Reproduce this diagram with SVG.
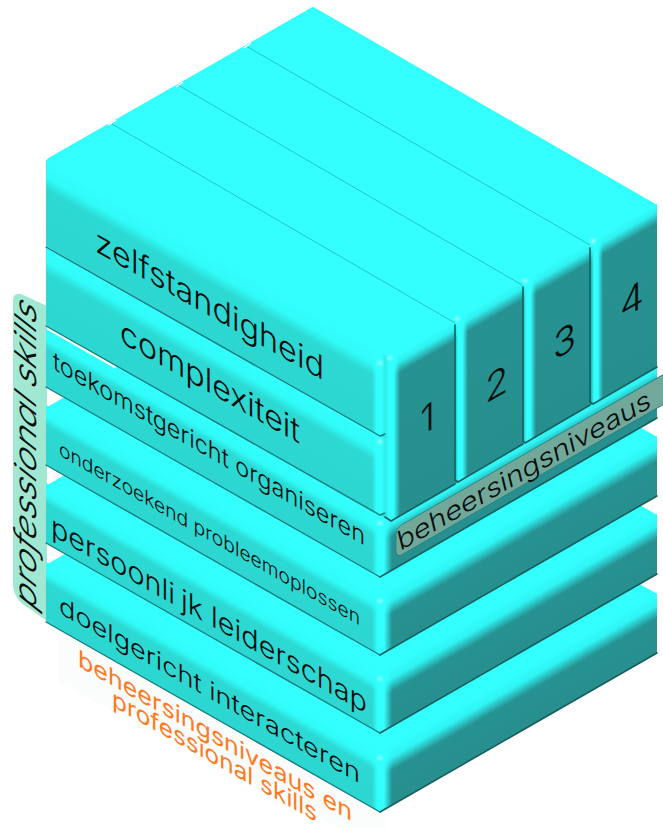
<svg xmlns="http://www.w3.org/2000/svg" width="663" height="828" viewBox="0 0 663 828">
<style>
.top{fill:#33FFFF;stroke:#33FFFF;stroke-width:4;stroke-linejoin:round}
.lf{fill:url(#gl)}
.rf{fill:url(#gr)}
.cf{fill:url(#gc)}
.bev{fill:url(#gb)}
.hi{fill:url(#gh)}
.eL{fill:none;stroke:#17807f;stroke-width:1.4;stroke-linecap:round;stroke-linejoin:round}
.eR{fill:none;stroke:#155f60;stroke-width:1.6;stroke-linecap:round;stroke-linejoin:round}
.sep{fill:none;stroke:#23c4c4;stroke-width:1}
text{font-family:"Inter","Open Sans","Liberation Sans",sans-serif;font-weight:300;fill:#020d0c}
.or{fill:#FF7A1F;font-size:24px;font-weight:400}
</style>
<defs>
<linearGradient id="gl" x1="0" y1="0" x2="0" y2="1"><stop offset="0" stop-color="#33FFFF"/><stop offset=".2" stop-color="#30FBF8"/><stop offset=".34" stop-color="#2DD9D3"/><stop offset="1" stop-color="#2DD6D0"/></linearGradient>
<linearGradient id="gr" x1="0" y1="0" x2="0" y2="1"><stop offset="0" stop-color="#33FFFF"/><stop offset=".2" stop-color="#30F4F4"/><stop offset=".42" stop-color="#279292"/><stop offset="1" stop-color="#278F8E"/></linearGradient>
<linearGradient id="gc" x1="0" y1="0" x2="0" y2="1"><stop offset="0" stop-color="#33FFFF"/><stop offset=".05" stop-color="#30F0F0"/><stop offset=".12" stop-color="#279292"/><stop offset="1" stop-color="#268F8E"/></linearGradient>
<linearGradient id="gb" x1="0" y1="0" x2="1" y2="0"><stop offset="0" stop-color="#33FFFF" stop-opacity="0"/><stop offset=".3" stop-color="#33FFFF"/><stop offset=".6" stop-color="#33FFFF"/><stop offset="1" stop-color="#33FFFF" stop-opacity="0"/></linearGradient>
<radialGradient id="gh"><stop offset="0" stop-color="#B0FFFF"/><stop offset="1" stop-color="#33FFFF" stop-opacity="0"/></radialGradient>
</defs>

<g id="shadow"><polygon points="57,628 385,818 385,828 340,828 58,682" fill="#FAFDFC"/></g>

<g id="label-professional-skills">
<path d="M13,301Q13,292 21,294L47,306V621L30,609Q13,600 13,583Z" fill="#A0E8D2"/>
<text transform="matrix(0,-1,1,.58,36,611)" font-size="30" textLength="305" lengthAdjust="spacingAndGlyphs" font-style="italic">professional skills</text>
</g>

<g id="slab-doelgericht-interacteren">
<polygon class="top" points="48,566 380,754 655,595 323,407"/>
<g transform="matrix(1,.57,0,1,46,562)"><rect class="lf" width="334" height="60"/></g>
<g transform="matrix(1,-.574,0,1,380,752)"><rect class="rf" width="277" height="60"/></g>
<polygon class="bev" points="372,750 392,750 392,805 380,812 372,807"/>
<circle class="hi" cx="380" cy="758" r="5"/>
<path class="eL" d="M46,622L380,812"/><path class="eR" d="M380,812L657,653"/>
<text transform="matrix(1,.567,0,1,59,613)" font-size="25" textLength="301" lengthAdjust="spacingAndGlyphs">doelgericht interacteren</text>
</g>

<g id="slab-persoonlijk-leiderschap">
<polygon class="top" points="48,487 380,675 655,516 323,328"/>
<g transform="matrix(1,.57,0,1,46,483)"><rect class="lf" width="334" height="60"/></g>
<g transform="matrix(1,-.574,0,1,380,673)"><rect class="rf" width="277" height="60"/></g>
<polygon class="bev" points="372,671 392,671 392,726 380,733 372,728"/>
<circle class="hi" cx="380" cy="679" r="5"/>
<path class="eL" d="M46,543L380,733"/><path class="eR" d="M380,733L657,574"/>
<text transform="matrix(1,.567,0,1,51,535)" font-size="29" textLength="316" lengthAdjust="spacingAndGlyphs">persoonli<tspan dx="6">jk</tspan> leiderschap</text>
</g>

<g id="slab-onderzoekend-probleemoplossen">
<polygon class="top" points="48,409 380,597 655,438 323,250"/>
<g transform="matrix(1,.57,0,1,46,405)"><rect class="lf" width="334" height="60"/></g>
<g transform="matrix(1,-.574,0,1,380,595)"><rect class="rf" width="277" height="60"/></g>
<polygon class="bev" points="372,593 392,593 392,648 380,655 372,650"/>
<circle class="hi" cx="380" cy="601" r="5"/>
<path class="eL" d="M46,465L380,655"/><path class="eR" d="M380,655L657,496"/>
<text transform="matrix(1,.567,0,1,59,455)" font-size="20" textLength="301" lengthAdjust="spacingAndGlyphs">onderzoekend probleemoplossen</text>
</g>

<g id="slab-toekomstgericht-organiseren">
<g transform="matrix(1,.57,0,1,46,329)"><rect class="lf" width="334" height="58"/></g>
<g transform="matrix(1,-.574,0,1,380,519)"><rect class="rf" width="277" height="58"/></g>
<polygon class="bev" points="372,517 392,517 392,570 380,577 372,572"/>
<circle class="hi" cx="380" cy="523" r="5"/>
<path class="eL" d="M46,387L380,577"/><path class="eR" d="M380,577L657,418"/>
<text transform="matrix(1,.567,0,1,53,369)" font-size="25" textLength="312" lengthAdjust="spacingAndGlyphs">toekomstgericht organiseren</text>
</g>

<g id="slab-complexiteit">
<g transform="matrix(1,.57,0,1,46,246)"><rect class="lf" width="334" height="80"/></g>
<polygon fill="#2DD9D3" points="380,435 392,435 392,522 380,515"/>
<polygon class="bev" points="372,436 388,436 388,512 380,515 372,512"/>
<circle class="hi" cx="380" cy="442" r="5"/>
<path class="eL" d="M46,326L380,515L385,513"/>
<text transform="matrix(1,.567,0,1,120,342)" font-size="33" textLength="180" lengthAdjust="spacingAndGlyphs">complexiteit</text>
</g>

<g id="slab-zelfstandigheid">
<g transform="matrix(1,.57,0,1,46,160)"><rect class="lf" width="334" height="86"/></g>
<polygon fill="#2DD9D3" points="380,355 392,355 392,440 380,436"/>
<polygon class="bev" points="372,352 388,352 388,433 380,436 372,433"/>
<circle class="hi" cx="380" cy="363" r="5"/>
<path class="eL" d="M46,247L380,436L385,434"/>
<text transform="matrix(1,.567,0,1,95,251)" font-size="33" textLength="229" lengthAdjust="spacingAndGlyphs">zelfstandigheid</text>
</g>

<g id="top-surface"><polygon class="top" points="49,160 313,9 655,206 391,356"/></g>

<g id="column-1">
<g transform="matrix(1,-.574,0,1,391,358)"><rect class="cf" width="66" height="163"/></g>
<polygon class="bev" points="384,354 400,350 400,516 391,521 384,519"/>
<circle class="hi" cx="390" cy="358" r="5"/>
<path class="eR" d="M385,517L391,521L455,484"/>
<text transform="matrix(1,-.574,0,1,420,436)" font-size="38">1</text>
</g>
<g id="column-2">
<g transform="matrix(1,-.574,0,1,457,318)"><rect class="cf" width="68" height="164"/></g>
<polygon class="bev" points="454,322 454,312 468,306 468,476 458,482 454,480"/>
<circle class="hi" cx="457" cy="319" r="5"/>
<path class="eR" d="M455,325V480L458,482L523,444"/>
<text transform="matrix(1,-.574,0,1,485,404)" font-size="38">2</text>
</g>
<g id="column-3">
<g transform="matrix(1,-.574,0,1,525,280)"><rect class="cf" width="67" height="163"/></g>
<polygon class="bev" points="522,284 522,274 536,268 536,437 525,443 522,441"/>
<circle class="hi" cx="525" cy="281" r="5"/>
<path class="eR" d="M523,287V441L525,443L590,405"/>
<text transform="matrix(1,-.574,0,1,553,361)" font-size="38">3</text>
</g>
<g id="column-4">
<g transform="matrix(1,-.574,0,1,592,241)"><rect class="cf" width="65" height="163"/></g>
<polygon class="bev" points="590,245 590,235 603,229 603,398 593,404 590,402"/>
<circle class="hi" cx="593" cy="241" r="5"/>
<path class="eR" d="M590,248V402L593,404L657,367"/>
<text transform="matrix(1,-.574,0,1,620,320)" font-size="38">4</text>
</g>

<g id="connectors">
<path class="sep" d="M112,124L455,323M178,85L522,285M246,46L590,245"/>
<path d="M108,125L116,120M176,87L183,82M244,48L251,43" stroke="#fff" stroke-width="1.5" fill="none"/>
</g>

<g id="label-beheersingsniveaus">
<rect transform="matrix(1,-.574,0,1,396,528)" width="275" height="30" rx="6" fill="#72A89A" stroke="#1f7f7e" stroke-width=".8"/>
<text transform="matrix(1,-.572,.25,1,400,551)" font-size="25" textLength="252" lengthAdjust="spacingAndGlyphs">beheersingsniveaus</text>
</g>

<g id="label-beheersingsniveaus-en-professional-skills">
<text class="or" transform="matrix(1,.567,0,1,78,666)" textLength="274" lengthAdjust="spacingAndGlyphs">beheersingsniveaus en</text>
<text class="or" transform="matrix(1,.567,0,1,112,706)" textLength="205" lengthAdjust="spacingAndGlyphs">professional skills</text>
</g>
</svg>
